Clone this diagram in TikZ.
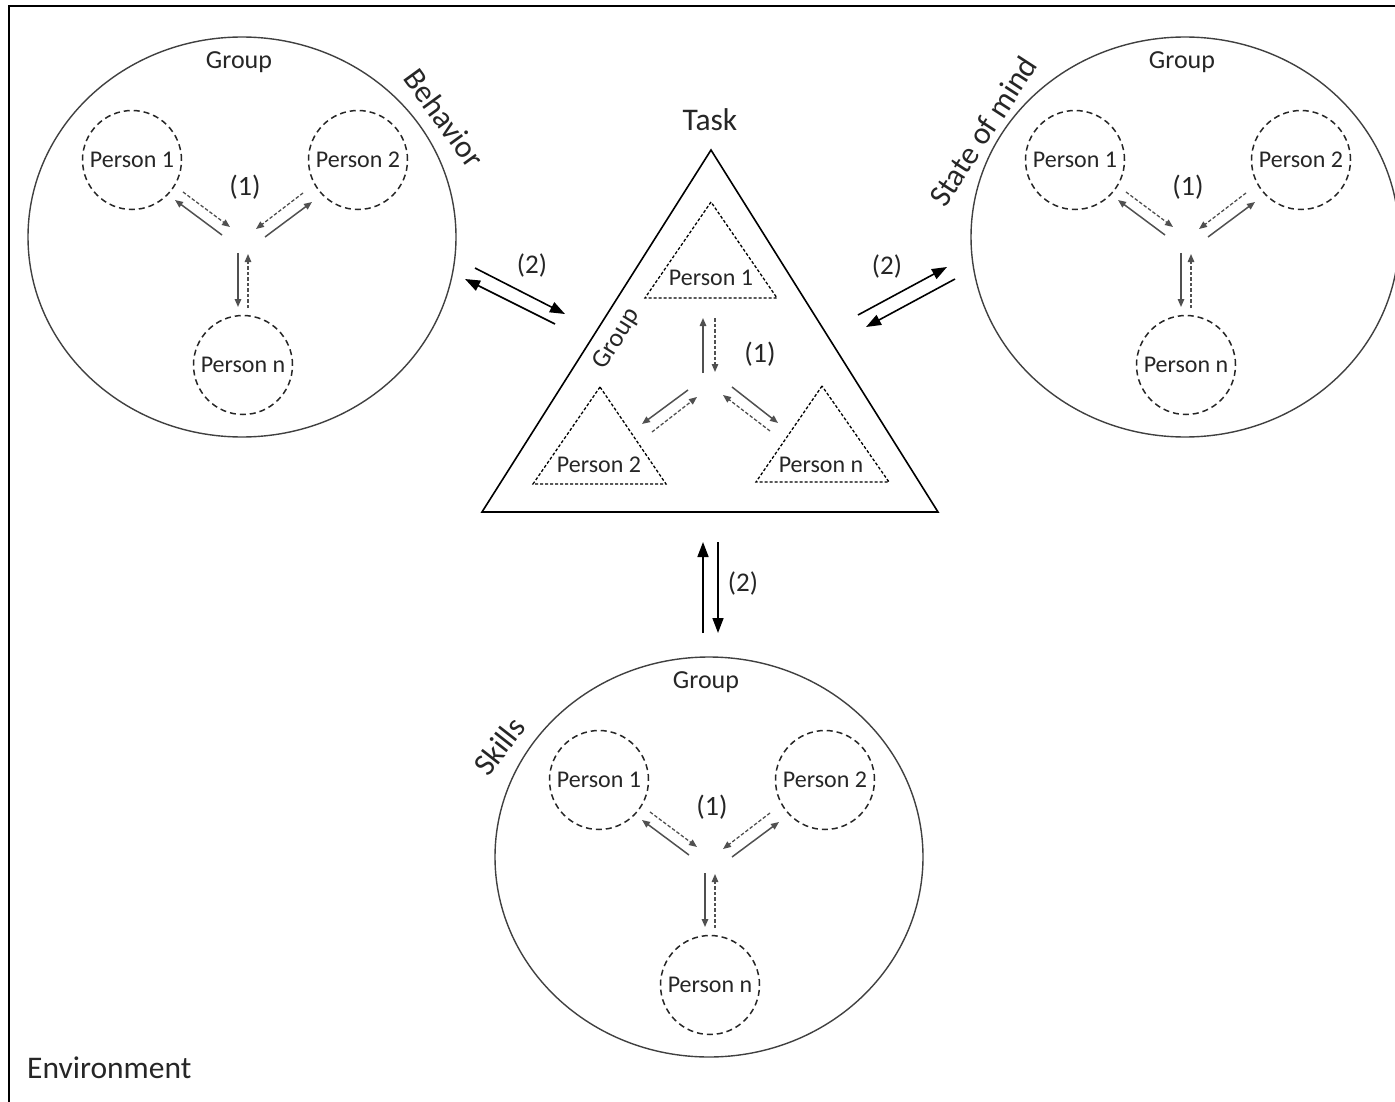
\documentclass[tikz,border=0pt]{standalone}
\usepackage{fontspec}
\setmainfont{Carlito}
\usetikzlibrary{arrows.meta,calc}
\definecolor{txt}{HTML}{262626}
\definecolor{ln}{HTML}{404040}
\definecolor{sm}{HTML}{505050}
\newcommand\persongroup[2]{%
\begin{scope}[shift={#2}]
  \draw[grp] (0,0) ellipse [x radius=214pt, y radius=200pt];
  \node[glbl] (#1G) at (-3,-175) {Group};
  \node[pc] (#1a) at (-110,-77) {Person 1};
  \node[pc] (#1b) at (116,-77) {Person 2};
  \node[pc] (#1n) at (1,128) {Person n};
  \node[onelbl] (#1l) at (3,-50) {(1)};
  \coordinate (#1as) at (-20,-2);  \coordinate (#1ae) at (-67,-37);
  \coordinate (#1ds) at (-59,-45); \coordinate (#1de) at (-12,-10);
  \coordinate (#1bs) at (23,0);    \coordinate (#1be) at (70,-35);
  \coordinate (#1es) at (61,-44);  \coordinate (#1ee) at (14,-8);
  \coordinate (#1ns) at (-4,16);   \coordinate (#1ne) at (-4,70);
  \coordinate (#1ms) at (6,71);    \coordinate (#1me) at (6,17);
  \draw[sa] (#1as) -- (#1ae);
  \draw[da] (#1ds) -- (#1de);
  \draw[sa] (#1bs) -- (#1be);
  \draw[da] (#1es) -- (#1ee);
  \draw[sa] (#1ns) -- (#1ne);
  \draw[da] (#1ms) -- (#1me);
\end{scope}}
\begin{document}
\begin{tikzpicture}[x=1pt,y=-1pt,
  grp/.style={draw=ln,line width=1.4pt},
  pc/.style={circle,draw=txt,line width=1.5pt,dash pattern=on 6pt off 4pt,minimum size=99pt,inner sep=0pt,text=txt,font=\fontsize{24}{25}\selectfont},
  glbl/.style={text=txt,inner sep=0pt,font=\fontsize{26}{27}\selectfont},
  onelbl/.style={text=txt,inner sep=0pt,font=\fontsize{28}{29}\selectfont},
  twolbl/.style={text=txt,inner sep=0pt,font=\fontsize{27}{28}\selectfont},
  biglbl/.style={text=txt,inner sep=0pt,font=\fontsize{31.5}{32}\selectfont},
  sa/.style={draw=sm,line width=1.5pt,-{Triangle[length=8pt,width=6.5pt]}},
  da/.style={draw=sm,line width=1.3pt,dash pattern=on 3.5pt off 2pt,-{Triangle[length=8pt,width=6.5pt]}},
  ba/.style={draw=black,line width=1.6pt,-{Triangle[length=15pt,width=11pt]}},
  tri/.style={draw=black,line width=1.6pt,line join=miter},
  itri/.style={draw=black,line width=1.3pt,dash pattern=on 3pt off 2pt},
  plbl/.style={text=txt,inner sep=0pt,font=\fontsize{24}{25}\selectfont}]
\useasboundingbox (0,0) rectangle (1395,1102);
% environment frame
\draw[black,line width=2pt] (9,1110) -- (9,6) -- (1400,6);
\node[biglbl,anchor=west] (env) at (27,1068) {Environment};

% three groups
\persongroup{L}{(242,237)}
\persongroup{R}{(1185,237)}
\persongroup{B}{(709,857)}

\node[biglbl,rotate=-54] (beh) at (444,118) {Behavior};
\node[biglbl,rotate=57] (som) at (983,131) {State of mind};
\node[biglbl,rotate=52] (ski) at (499,746) {Skills};

% task triangle
\coordinate (TA) at (711,150);
\coordinate (TL) at (482,512);
\coordinate (TR) at (938,512);
\draw[tri] (TA) -- (TL) -- (TR) -- cycle;
\node[biglbl] (task) at (710,120) {Task};
\node[glbl,rotate=58] (tgrp) at (617,339) {Group};

% inner person triangles
\coordinate (I1a) at (711,202); \coordinate (I1l) at (645,298); \coordinate (I1r) at (777,298);
\coordinate (I2a) at (600,387); \coordinate (I2l) at (533,484); \coordinate (I2r) at (666,484);
\coordinate (Ina) at (822,386); \coordinate (Inl) at (756,482); \coordinate (Inr) at (889,482);
\draw[itri] (I1a) -- (I1l) -- (I1r) -- cycle;
\draw[itri] (I2a) -- (I2l) -- (I2r) -- cycle;
\draw[itri] (Ina) -- (Inl) -- (Inr) -- cycle;
\node[plbl] (tp1) at (711,278) {Person 1};
\node[plbl] (tp2) at (599,465) {Person 2};
\node[plbl] (tpn) at (821,465) {Person n};
\node[onelbl] (tone) at (760,354) {(1)};

% inner arrows
\coordinate (v1s) at (703,373); \coordinate (v1e) at (703,318);
\coordinate (v2s) at (715,318); \coordinate (v2e) at (715,372);
\coordinate (l1s) at (688,390); \coordinate (l1e) at (642,424);
\coordinate (l2s) at (652,432); \coordinate (l2e) at (697,397);
\coordinate (r1s) at (732,387); \coordinate (r1e) at (778,423);
\coordinate (r2s) at (770,431); \coordinate (r2e) at (723,395);
\draw[sa] (v1s) -- (v1e);
\draw[da] (v2s) -- (v2e);
\draw[sa] (l1s) -- (l1e);
\draw[da] (l2s) -- (l2e);
\draw[sa] (r1s) -- (r1e);
\draw[da] (r2s) -- (r2e);

% (2) arrows
\coordinate (a1s) at (475,268); \coordinate (a1e) at (565,314);
\coordinate (a2s) at (555,324); \coordinate (a2e) at (465,279);
\draw[ba] (a1s) -- (a1e);
\draw[ba] (a2s) -- (a2e);
\node[twolbl] (twoL) at (532,265) {(2)};

\coordinate (b1s) at (858,315); \coordinate (b1e) at (947,267);
\coordinate (b2s) at (955,279); \coordinate (b2e) at (866,327);
\draw[ba] (b1s) -- (b1e);
\draw[ba] (b2s) -- (b2e);
\node[twolbl] (twoR) at (887,266) {(2)};

\coordinate (c1s) at (703,633); \coordinate (c1e) at (703,542);
\coordinate (c2s) at (718,542); \coordinate (c2e) at (718,633);
\draw[ba] (c1s) -- (c1e);
\draw[ba] (c2s) -- (c2e);
\node[twolbl] (twoB) at (743,583) {(2)};
\end{tikzpicture}
\end{document}
